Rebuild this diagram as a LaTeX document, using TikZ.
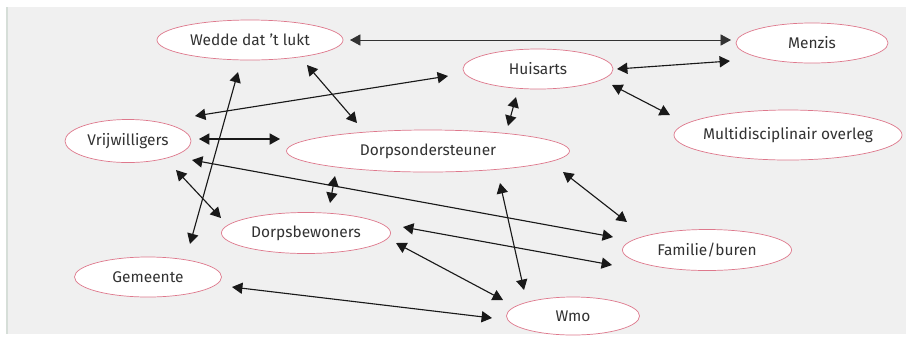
\documentclass[tikz,border=0pt]{standalone}
\usepackage{fontspec}
\setmainfont{Fira Sans}
\usetikzlibrary{arrows.meta, shapes.geometric, backgrounds}
\usepackage{xcolor}

\definecolor{panel}{RGB}{240,240,240}
\definecolor{rim}{RGB}{214,222,216}
\definecolor{bubbleline}{RGB}{222,120,140}
\definecolor{labeltext}{RGB}{50,50,50}

\begin{document}
\begin{tikzpicture}[
  x=0.025cm, y=-0.025cm,
  bubble/.style={ellipse, draw=bubbleline, line width=0.5pt, fill=white, inner sep=0pt, text=labeltext, font=\fontsize{11}{13}\selectfont},
  size/.style 2 args={minimum width=#1*0.7113pt, minimum height=#2*0.7113pt},
  link/.style={{Triangle[length=2.6mm, width=2.8mm]}-{Triangle[length=2.6mm, width=2.8mm]}, line width=0.8pt, black!90},
  thinlink/.style={link, line width=0.55pt, black!80}
]

% Panel
\useasboundingbox (0,0) rectangle (906,337);
\fill[white] (0,0) rectangle (906,337);
\fill[panel] (6,7) rectangle (906,334);
\draw[rim, line width=1.2pt] (7,7) -- (7,334);

% Nodes
\node[bubble, size={186}{40}] (wedde) at (250,40) {Wedde dat 't lukt};
\node[bubble, size={152}{40}] (menzis) at (812,43) {Menzis};
\node[bubble, size={150}{40}] (huis) at (538,69) {Huisarts};
\node[bubble, size={228}{50}] (multi) at (788,135) {\makebox[0pt]{Multidisciplinair overleg}};
\node[bubble, size={126}{43}] (vrij) at (128,141) {Vrijwilligers};
\node[bubble, size={283}{42}] (dorpsond) at (428,151) {Dorpsondersteuner};
\node[bubble, size={169}{41}] (dorpsbew) at (306,233) {Dorpsbewoners};
\node[bubble, size={147}{40}] (gem) at (148,277) {Gemeente};
\node[bubble, size={169}{41}] (fam) at (707,250) {Familie/buren};
\node[bubble, size={133}{38}] (wmo) at (573,316) {Wmo};

% Top links
\draw[thinlink] ([shift={(100,0)}]wedde.center) -- ([shift={(-81,-3)}]menzis.center);
\draw[link] ([shift={(79,0)}]huis.center) -- ([shift={(-82,18)}]menzis.center);
\draw[link] ([shift={(74,16)}]huis.center) -- ([shift={(-118,-20)}]multi.center);
\draw[link] ([shift={(67,-25)}]vrij.center) -- ([shift={(-90,7)}]huis.center);
\draw[link] ([shift={(-12,32)}]wedde.center) -- ([shift={(42,-33)}]gem.center);
\draw[link] ([shift={(57,25)}]wedde.center) -- ([shift={(-71,-28)}]dorpsond.center);
\draw[link] ([shift={(-22,28)}]huis.center) -- ([shift={(80,-25)}]dorpsond.center);

% Middle links
\draw[link] ([shift={(71,-2)}]vrij.center) -- ([shift={(-148,-12)}]dorpsond.center);
\draw[link] ([shift={(64,19)}]vrij.center) -- ([shift={(-94,-13)}]fam.center);
\draw[link] ([shift={(48,29)}]vrij.center) -- ([shift={(-85,-15)}]dorpsbew.center);
\draw[link] ([shift={(-93,25)}]dorpsond.center) -- ([shift={(24,-30)}]dorpsbew.center);
\draw[link] ([shift={(135,21)}]dorpsond.center) -- ([shift={(-80,-28)}]fam.center);
\draw[link] ([shift={(72,32)}]dorpsond.center) -- ([shift={(-49,-26)}]wmo.center);

% Bottom links
\draw[link] ([shift={(97,-6)}]dorpsbew.center) -- ([shift={(-95,15)}]fam.center);
\draw[link] ([shift={(90,10)}]dorpsbew.center) -- ([shift={(-70,-16)}]wmo.center);
\draw[link] ([shift={(84,10)}]gem.center) -- ([shift={(-81,2)}]wmo.center);

\end{tikzpicture}
\end{document}
